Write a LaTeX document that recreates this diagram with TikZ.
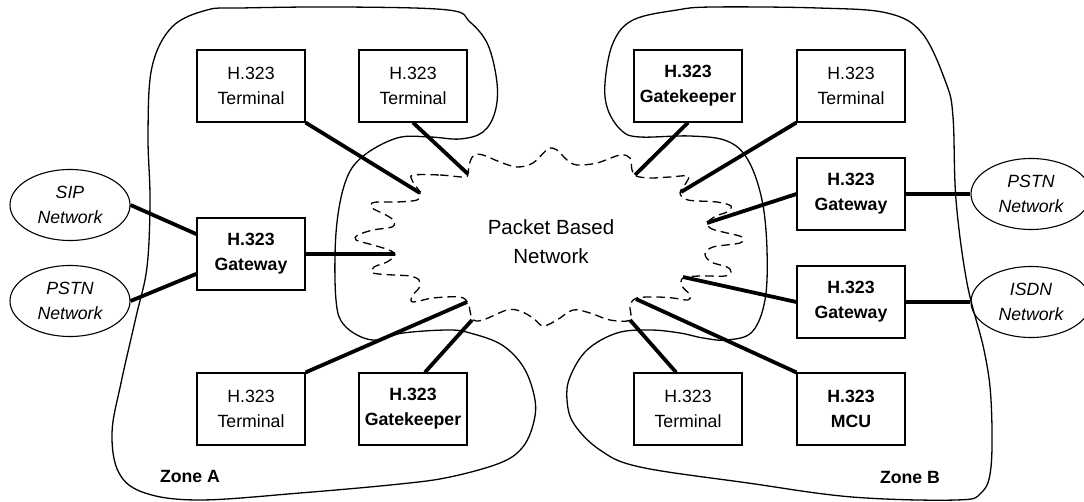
\documentclass[tikz,border=0pt]{standalone}
\usepackage{fontspec}
\setmainfont{Liberation Sans}
\usetikzlibrary{shapes.geometric}
\tikzset{
  box/.style={draw, line width=1.2pt, minimum width=108pt, minimum height=72pt, inner sep=0pt, align=center, font=\fontsize{17.7}{25}\selectfont},
  bbox/.style={box, font=\fontsize{17.7}{25}\selectfont\bfseries},
  net/.style={draw, ellipse, line width=1.1pt, minimum width=120pt, minimum height=71pt, inner sep=0pt, align=center, font=\fontsize{17.7}{25}\selectfont\itshape},
  link/.style={line width=3.8pt},
  zone/.style={line width=1.3pt},
  cloud/.style={line width=1.3pt, dash pattern=on 8.5pt off 5pt},
  zlabel/.style={font=\fontsize{17.7}{22}\selectfont\bfseries}
}
\begin{document}
\begin{tikzpicture}[x=1pt,y=-1pt]
\useasboundingbox (0,0) rectangle (1084,502);
% zones
\draw[zone] plot[smooth cycle, tension=0.6] coordinates {
 (207,10) (241,8) (345,7) (448,10) (470,22) (488,45) (497,83) (495,112) (483,132) (460,139) (430,137) (397,138) (362,157) (345,183) (336,233) (336,300) (345,326) (372,340) (403,333) (448,330) (470,333) (502,345) (524,368) (535,400) (533,425) (522,448) (500,463) (450,477) (400,484) (300,493) (200,500) (145,493) (119,473) (112,433) (121,383) (136,317) (147,267) (150,200) (148,133) (152,67) (172,27)};
\draw[zone] plot[smooth cycle, tension=0.6] coordinates {
 (713,7) (818,8) (887,13) (922,33) (946,83) (953,117) (956,200) (967,283) (984,350) (991,400) (991,467) (981,493) (956,500) (852,497) (748,483) (640,467) (600,450) (574,424) (567,400) (570,377) (587,350) (617,333) (650,330) (680,333) (703,338) (727,340) (752,332) (765,300) (767,250) (762,200) (748,160) (727,141) (690,136) (640,137) (622,131) (608,110) (605,83) (613,43) (633,20) (677,10)};
% cloud
\draw[cloud] plot[smooth cycle, tension=0.55] coordinates {
 (413,175) (440,175) (465,177) (468,172) (470,162) (474,155) (483,155) (500,162) (517,167) (533,163) (548,149) (557,150) (567,160) (577,165) (597,163) (620,155) (630,158) (632,170) (636,176) (650,178) (670,177) (688,176) (686,183) (680,193) (688,200) (717,202) (731,206) (727,212) (716,216) (707,223) (712,229) (727,233) (742,237) (740,243) (713,247) (705,254) (711,262) (727,267) (731,272) (725,276) (700,276) (683,278) (682,286) (690,295) (688,300) (673,298) (656,297) (637,298) (630,305) (630,320) (610,320) (590,313) (573,310) (557,320) (543,326) (533,318) (520,311) (507,310) (483,320) (473,320) (470,311) (468,303) (460,297) (433,298) (413,302) (412,296) (419,288) (419,280) (410,276) (393,275) (373,273) (374,267) (387,262) (395,255) (389,250) (373,245) (356,240) (358,235) (373,230) (392,227) (394,221) (386,215) (372,208) (372,203) (380,202) (397,202) (417,200) (420,193) (415,185) (412,180)};
\node[font=\fontsize{20.5}{29}\selectfont, align=center] (pbn) at (551,242) {Packet Based\\Network};
% cloud attach points
\coordinate (cA1) at (420,193);
\coordinate (cA2) at (468,174);
\coordinate (cA3) at (395,254);
\coordinate (cA4) at (467,302);
\coordinate (cA5) at (472,320);
\coordinate (cB1) at (635,175);
\coordinate (cB2) at (681,192);
\coordinate (cB3) at (707,223);
\coordinate (cB4) at (683,277);
\coordinate (cB5) at (636,299);
\coordinate (cB6) at (630,320);
% zone A nodes
\node[box]  (tA1) at (251,86) {H.323\\Terminal};
\node[box]  (tA2) at (413,86) {H.323\\Terminal};
\node[bbox] (gwA) at (251,254) {H.323\\Gateway};
\node[box]  (tA3) at (251,409) {H.323\\Terminal};
\node[bbox] (gkA) at (413,409) {H.323\\Gatekeeper};
\node[net]  (sip) at (70,205) {SIP\\Network};
\node[net]  (pstnA) at (70,301) {PSTN\\Network};
% zone B nodes
\node[bbox] (gkB) at (688,86) {H.323\\Gatekeeper};
\node[box]  (tB1) at (851,86) {H.323\\Terminal};
\node[bbox] (gwB1) at (851,194) {H.323\\Gateway};
\node[bbox] (gwB2) at (851,302) {H.323\\Gateway};
\node[box]  (tB2) at (688,409) {H.323\\Terminal};
\node[bbox] (mcu) at (851,409) {H.323\\MCU};
\node[net]  (pstnB) at (1031,194) {PSTN\\Network};
\node[net]  (isdn) at (1031,302) {ISDN\\Network};
% labels
\node[zlabel] (za) at (190,476) {Zone A};
\node[zlabel] (zb) at (910,477) {Zone B};
% links
\draw[link] (tA1.south east) -- (cA1);
\draw[link] (tA2.south) -- (cA2);
\draw[link] (gwA.east) -- (cA3);
\draw[link] (tA3.north east) -- (cA4);
\draw[link] (gkA.72) -- (cA5);
\draw[link] (sip.east) -- (gwA.160);
\draw[link] (pstnA.east) -- (gwA.200);
\draw[link] (gkB.south) -- (cB1);
\draw[link] (tB1.south west) -- (cB2);
\draw[link] (gwB1.west) -- (cB3);
\draw[link] (gwB2.west) -- (cB4);
\draw[link] (mcu.north west) -- (cB5);
\draw[link] (tB2.108) -- (cB6);
\draw[link] (gwB1.east) -- (pstnB.west);
\draw[link] (gwB2.east) -- (isdn.west);
\end{tikzpicture}
\end{document}
